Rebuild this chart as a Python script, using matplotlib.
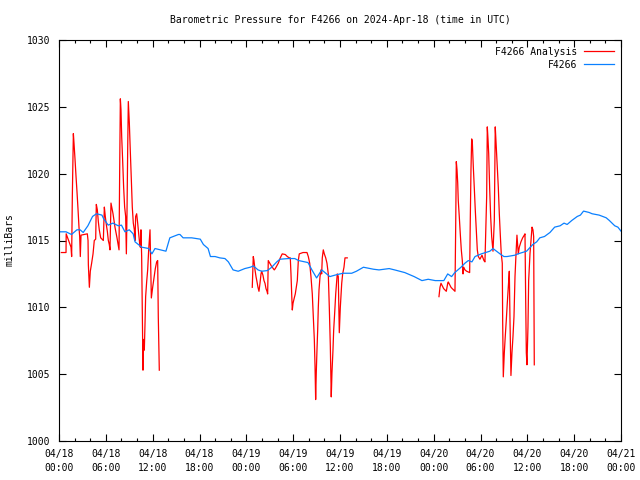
"""Barometric pressure for F4266, observed vs analysis (gnuplot style)."""
import numpy as np
import pandas as pd
import matplotlib
matplotlib.use("Agg")
import matplotlib.pyplot as plt
import matplotlib.dates as mdates

START = pd.Timestamp("2024-04-18 00:00")
END = pd.Timestamp("2024-04-21 00:00")

# Station observations (hours after 04/18 00:00 UTC, mb)
obs_hours = [0.0, 0.9, 1.6, 2.3, 2.7, 3.1, 3.7, 4.3, 4.8, 5.5, 5.7, 6.3, 6.9, 7.6, 8.0,
             8.45, 9.0, 9.5, 9.74, 10.6, 11.5, 11.9, 12.3, 13.0, 13.7, 14.2, 15.3, 15.5,
             15.9, 17.0, 18.1, 18.5, 19.1, 19.4, 20.0, 20.6, 21.26, 21.7, 22.3, 22.96,
             23.8, 24.5, 24.9, 25.5, 25.96, 26.7, 27.25, 27.9, 28.3, 29.4, 30.2, 30.7,
             31.9, 32.4, 33.0, 33.66, 34.7, 35.3, 36.0, 36.4, 37.5, 38.1, 39.0, 40.3,
             41.0, 42.3, 43.0, 44.3, 45.5, 46.5, 47.3, 48.2, 48.6, 49.3, 49.8, 50.3,
             50.7, 51.5, 52.0, 52.44, 52.9, 53.3, 54.1, 55.2, 55.6, 56.5, 57.0, 57.4,
             58.4, 58.8, 59.9, 60.7, 61.2, 61.6, 62.2, 62.9, 63.5, 64.2, 64.7, 65.1,
             65.7, 66.4, 66.8, 67.2, 67.9, 68.3, 69.2, 70.1, 70.5, 71.2, 71.6, 72.0]
obs_mb = [1015.65, 1015.65, 1015.45, 1015.8, 1015.8, 1015.6, 1016.1, 1016.8, 1017.0,
          1016.9, 1016.65, 1016.15, 1016.3, 1016.1, 1016.15, 1015.65, 1015.8, 1015.5,
          1014.9, 1014.5, 1014.4, 1014.0, 1014.4, 1014.3, 1014.2, 1015.2, 1015.45,
          1015.45, 1015.2, 1015.2, 1015.1, 1014.7, 1014.4, 1013.8, 1013.8, 1013.7,
          1013.65, 1013.4, 1012.8, 1012.7, 1012.9, 1013.0, 1013.1, 1012.8, 1012.7,
          1012.75, 1013.0, 1013.4, 1013.6, 1013.65, 1013.65, 1013.5, 1013.35, 1012.8,
          1012.2, 1012.8, 1012.3, 1012.4, 1012.5, 1012.55, 1012.55, 1012.7, 1013.0,
          1012.85, 1012.8, 1012.9, 1012.8, 1012.6, 1012.3, 1012.0, 1012.1, 1012.0,
          1012.0, 1012.0, 1012.5, 1012.3, 1012.6, 1013.0, 1013.3, 1013.5, 1013.4,
          1013.8, 1014.0, 1014.2, 1014.4, 1014.0, 1013.8, 1013.8, 1013.9, 1014.0,
          1014.2, 1014.7, 1014.9, 1015.2, 1015.3, 1015.6, 1016.0, 1016.1, 1016.3,
          1016.2, 1016.5, 1016.8, 1016.9, 1017.2, 1017.1, 1017.0, 1016.9, 1016.7,
          1016.5, 1016.1, 1016.0, 1015.7]

# Analysis, three separate runs (gaps between them)
ana1_hours = [0.3, 0.9, 0.92, 1.54, 1.62, 1.71, 1.84, 1.92, 2.05, 2.18, 2.31, 2.43, 2.56,
              2.65, 2.73, 2.82, 3.63, 3.72, 3.76, 3.89, 4.01, 4.18, 4.36, 4.52, 4.70,
              4.78, 4.91, 5.04, 5.16, 5.34, 5.68, 5.81, 5.93, 6.06, 6.19, 6.32, 6.44,
              6.53, 6.66, 6.92, 7.17, 7.43, 7.69, 7.77, 7.86, 7.94, 8.03, 8.16, 8.28,
              8.41, 8.54, 8.63, 8.71, 8.80, 8.88, 9.01, 9.14, 9.27, 9.39, 9.52, 9.65,
              9.74, 9.82, 9.95, 10.08, 10.21, 10.33, 10.42, 10.50, 10.59, 10.68, 10.76,
              10.85, 10.93, 11.02, 11.10, 11.23, 11.36, 11.49, 11.66, 11.83, 12.0,
              12.17, 12.34, 12.51, 12.64, 12.72, 12.85]
ana1_mb = [1014.1, 1014.1, 1015.5, 1014.5, 1013.8, 1018.4, 1023.0, 1022.3, 1021.1,
           1019.8, 1018.6, 1017.4, 1016.0, 1015.3, 1013.8, 1015.4, 1015.5, 1015.0,
           1013.2, 1011.5, 1012.7, 1013.3, 1014.0, 1015.0, 1015.1, 1017.7, 1017.3,
           1016.4, 1015.8, 1015.2, 1015.0, 1017.5, 1016.8, 1016.2, 1015.7, 1015.0,
           1014.7, 1014.3, 1017.8, 1017.0, 1016.0, 1015.2, 1014.3, 1020.0, 1025.6,
           1024.8, 1022.8, 1020.9, 1019.0, 1017.5, 1016.8, 1014.0, 1017.0, 1021.8,
           1025.4, 1023.8, 1021.6, 1019.5, 1017.5, 1016.3, 1015.8, 1015.0, 1016.8,
           1017.0, 1016.3, 1015.5, 1014.8, 1014.5, 1015.8, 1013.8, 1009.3, 1005.3,
           1007.6, 1006.8, 1008.8, 1010.8, 1011.9, 1012.8, 1014.3, 1015.8, 1010.7,
           1011.5, 1012.2, 1012.9, 1013.4, 1013.5, 1009.3, 1005.3]

ana2_hours = [24.76, 24.89, 24.98, 25.11, 25.24, 25.37, 25.49, 25.62, 25.75, 25.88,
              25.97, 26.13, 26.26, 26.39, 26.52, 26.65, 26.73, 26.81, 27.2, 27.45,
              27.58, 27.71, 28.09, 28.35, 28.6, 28.99, 29.25, 29.5, 29.63, 29.72, 29.81,
              29.89, 29.98, 30.14, 30.27, 30.4, 30.53, 30.66, 30.78, 31.26, 31.77,
              31.94, 32.12, 32.28, 32.45, 32.58, 32.71, 32.8, 32.88, 32.96, 33.05,
              33.14, 33.22, 33.31, 33.44, 33.56, 33.65, 33.73, 33.86, 33.99, 34.17,
              34.33, 34.5, 34.63, 34.76, 34.88, 34.97, 35.1, 35.19, 35.32, 35.45,
              35.58, 35.65, 35.78, 35.91, 36.04, 36.22, 36.34, 36.51, 36.64, 36.77,
              36.93]
ana2_mb = [1011.5, 1013.8, 1013.5, 1012.8, 1012.3, 1011.9, 1011.5, 1011.2, 1011.8,
           1012.5, 1012.7, 1012.4, 1012.0, 1011.8, 1011.4, 1011.2, 1011.0, 1013.5,
           1013.1, 1012.9, 1012.8, 1012.9, 1013.3, 1013.7, 1014.0, 1013.95, 1013.8,
           1013.7, 1013.7, 1012.5, 1011.0, 1009.8, 1010.3, 1010.7, 1011.0, 1011.5,
           1012.0, 1013.5, 1014.0, 1014.1, 1014.1, 1013.8, 1013.3, 1012.3, 1011.0,
           1009.3, 1007.6, 1005.6, 1003.1, 1005.1, 1006.8, 1008.3, 1010.0, 1011.3,
           1012.3, 1012.8, 1012.5, 1013.7, 1014.3, 1014.0, 1013.7, 1013.3, 1012.5,
           1010.0, 1007.1, 1003.3, 1005.1, 1006.8, 1008.3, 1009.6, 1011.0, 1012.0,
           1012.5, 1012.3, 1008.1, 1010.0, 1011.8, 1012.5, 1013.0, 1013.7, 1013.7,
           1013.7]

ana3_hours = [48.68, 48.81, 48.94, 49.28, 49.45, 49.62, 49.8, 49.87, 50.22, 50.38,
              50.56, 50.73, 50.82, 50.9, 50.99, 51.08, 51.15, 51.28, 51.41, 51.54,
              51.67, 51.76, 51.85, 52.01, 52.23, 52.61, 52.69, 52.78, 52.87, 52.95,
              53.08, 53.2, 53.33, 53.46, 53.59, 53.72, 53.93, 54.19, 54.44, 54.57,
              54.79, 54.87, 54.96, 55.05, 55.18, 55.30, 55.43, 55.6, 55.77, 55.89,
              56.02, 56.15, 56.28, 56.41, 56.53, 56.66, 56.79, 56.84, 56.92, 57.05,
              57.17, 57.30, 57.43, 57.56, 57.69, 57.78, 57.9, 58.03, 58.16, 58.29,
              58.42, 58.55, 58.67, 58.84, 58.97, 59.18, 59.4, 59.61, 59.7, 59.79,
              59.87, 59.95, 60.08, 60.17, 60.34, 60.47, 60.6, 60.72, 60.81, 60.89]
ana3_mb = [1010.8, 1011.5, 1011.8, 1011.4, 1011.3, 1011.2, 1011.8, 1011.9, 1011.5,
           1011.4, 1011.3, 1011.2, 1016.0, 1020.9, 1020.3, 1019.3, 1018.0, 1016.8,
           1015.5, 1014.3, 1013.5, 1012.5, 1013.0, 1012.8, 1012.7, 1012.6, 1016.5,
           1020.3, 1022.6, 1022.4, 1020.5, 1019.0, 1017.3, 1015.8, 1014.3, 1013.8,
           1013.6, 1013.9, 1013.5, 1013.4, 1018.3, 1023.5, 1022.6, 1021.5, 1018.8,
           1016.8, 1015.3, 1014.2, 1016.5, 1023.5, 1022.0, 1020.5, 1019.0, 1017.0,
           1015.5, 1014.0, 1013.3, 1009.0, 1004.8, 1006.6, 1007.8, 1009.0, 1010.3,
           1011.5, 1012.7, 1009.0, 1004.9, 1006.6, 1007.8, 1009.3, 1012.3, 1014.0,
           1015.4, 1014.0, 1014.5, 1014.9, 1015.2, 1015.4, 1015.5, 1010.5, 1006.6,
           1005.7, 1008.5, 1012.0, 1014.0, 1015.0, 1016.0, 1015.8, 1015.3, 1005.7]

y_ticks = [1000, 1005, 1010, 1015, 1020, 1025, 1030]


def to_time(hours):
    return START + pd.to_timedelta(np.array(hours), unit="h")


plt.rcParams["font.family"] = "DejaVu Sans Mono"
plt.rcParams["font.size"] = 7

fig = plt.figure(figsize=(6.4, 4.8), dpi=100)
ax = fig.add_axes([59 / 640, 39 / 480, 562 / 640, 401 / 480])

red = "#ff0000"
blue = "#0a80ff"

# analysis segments: first one carries the legend label
ax.plot(to_time(ana1_hours), ana1_mb, color=red, lw=0.9, label="F4266 Analysis")
ax.plot(to_time(ana2_hours), ana2_mb, color=red, lw=0.9)
ax.plot(to_time(ana3_hours), ana3_mb, color=red, lw=0.9)
ax.plot(to_time(obs_hours), obs_mb, color=blue, lw=0.9, label="F4266")

ax.set_xlim(START, END)
ax.set_ylim(1000, 1030)
ax.set_yticks(y_ticks)

ax.xaxis.set_major_locator(mdates.HourLocator(byhour=range(0, 24, 6)))
ax.xaxis.set_minor_locator(mdates.HourLocator(byhour=range(0, 24, 2)))
ax.xaxis.set_major_formatter(mdates.DateFormatter("%m/%d\n%H:%M"))

ax.tick_params(which="both", direction="in", top=True, right=True, color="black")
ax.tick_params(which="major", length=5, width=0.8)
ax.tick_params(which="minor", length=2.5, width=0.8)
ax.tick_params(axis="x", pad=6)
ax.tick_params(axis="y", pad=6)
for lab in ax.get_xticklabels():
    lab.set_linespacing(1.5)
for sp in ax.spines.values():
    sp.set_linewidth(0.8)
    sp.set_color("black")

fig.text(340 / 640, 1 - 20 / 480, "Barometric Pressure for F4266 on 2024-Apr-18 (time in UTC)",
         ha="center", va="center")
fig.text(10 / 640, 0.5, "milliBars", rotation=90, ha="center", va="center")

ax.legend(loc="upper right", frameon=False, markerfirst=False, handlelength=3.1,
          handletextpad=0.7, labelspacing=0.3, borderaxespad=0.3, fontsize=7)

fig.savefig("out.png", dpi=100)
